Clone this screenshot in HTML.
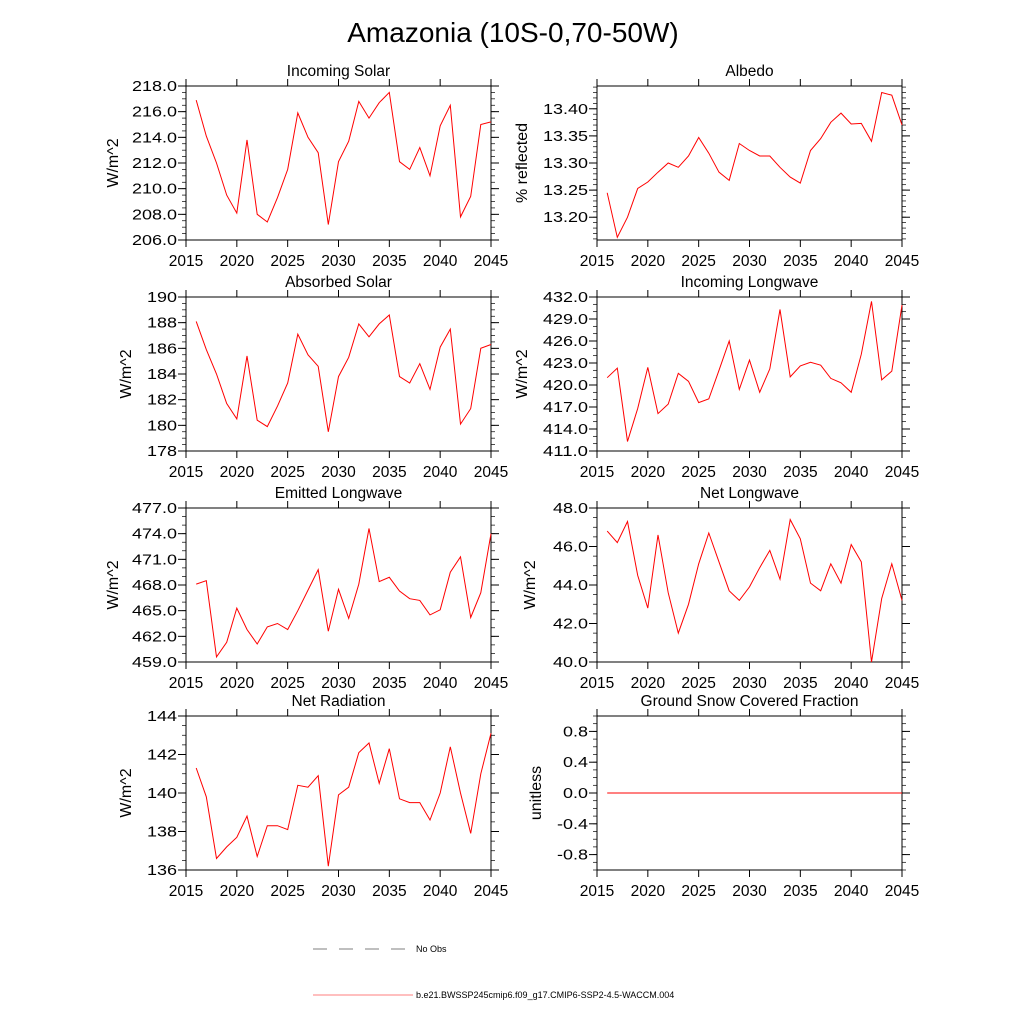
<!DOCTYPE html>
<html><head><meta charset="utf-8"><style>
body{margin:0;background:#fff;}
svg{display:block;font-family:"Liberation Sans",sans-serif;}
</style></head><body>
<svg id="c" width="1024" height="1024" viewBox="0 0 1024 1024">
<text x="513" y="42" text-anchor="middle" font-size="28">Amazonia (10S-0,70-50W)</text>
<g>
<line x1="313" y1="949" x2="413" y2="949" stroke="#000" stroke-width="0.6" stroke-dasharray="14,12"/>
<text x="416" y="952" font-size="9">No Obs</text>
<line x1="313" y1="995" x2="413" y2="995" stroke="#f00" stroke-width="0.6"/>
<text x="416" y="998" font-size="9">b.e21.BWSSP245cmip6.f09_g17.CMIP6-SSP2-4.5-WACCM.004</text>
</g>
</svg>
<script>
const years = [2016,2017,2018,2019,2020,2021,2022,2023,2024,2025,2026,2027,2028,2029,2030,2031,2032,2033,2034,2035,2036,2037,2038,2039,2040,2041,2042,2043,2044,2045];
const xTicks = [2015,2020,2025,2030,2035,2040,2045];
const incomingSolar = [216.9,214.1,212.0,209.5,208.1,213.8,208.0,207.4,209.3,211.5,215.9,214.0,212.8,207.2,212.1,213.7,216.8,215.5,216.7,217.5,212.1,211.5,213.2,211.0,214.9,216.5,207.8,209.4,215.0,215.2];
const albedo = [13.245,13.163,13.200,13.253,13.265,13.283,13.300,13.292,13.313,13.347,13.318,13.283,13.268,13.336,13.323,13.313,13.313,13.292,13.274,13.263,13.323,13.345,13.375,13.392,13.372,13.373,13.340,13.430,13.425,13.370];
const absorbedSolar = [188.1,185.9,184.0,181.7,180.5,185.4,180.4,179.9,181.5,183.3,187.1,185.5,184.6,179.5,183.8,185.3,187.9,186.9,187.9,188.6,183.8,183.3,184.8,182.8,186.1,187.5,180.1,181.3,186.0,186.3];
const incomingLW = [421.0,422.3,412.3,416.8,422.4,416.1,417.4,421.6,420.5,417.6,418.1,422.0,426.0,419.4,423.4,419.0,422.2,430.3,421.1,422.6,423.1,422.7,420.9,420.3,419.0,424.2,431.4,420.7,421.9,430.9];
const emittedLW = [468.1,468.5,459.6,461.3,465.3,462.8,461.1,463.1,463.5,462.8,465.0,467.4,469.8,462.6,467.5,464.1,468.1,474.6,468.4,468.9,467.3,466.4,466.2,464.5,465.1,469.5,471.3,464.2,467.1,474.0];
const netLW = [46.8,46.2,47.3,44.5,42.8,46.6,43.6,41.5,43.0,45.1,46.7,45.2,43.7,43.2,43.9,44.9,45.8,44.3,47.4,46.4,44.1,43.7,45.1,44.1,46.1,45.2,40.0,43.3,45.1,43.2];
const netRad = [141.3,139.8,136.6,137.2,137.7,138.8,136.7,138.3,138.3,138.1,140.4,140.3,140.9,136.2,139.9,140.3,142.1,142.6,140.5,142.3,139.7,139.5,139.5,138.6,140.0,142.4,140.0,137.9,141.0,143.1];
const snowFrac = [0,0,0,0,0,0,0,0,0,0,0,0,0,0,0,0,0,0,0,0,0,0,0,0,0,0,0,0,0,0];
const ticksSolar = [206,208,210,212,214,216,218];
const ticksAlbedo = [13.20,13.25,13.30,13.35,13.40];
const ticksAbs = [178,180,182,184,186,188,190];
const ticksILW = [411,414,417,420,423,426,429,432];
const ticksELW = [459,462,465,468,471,474,477];
const ticksNLW = [40,42,44,46,48];
const ticksNR = [136,138,140,142,144];
const ticksSnow = [-0.8,-0.4,0,0.4,0.8];

const NS='http://www.w3.org/2000/svg';
const svg=document.getElementById('c');
function mk(tag,attrs,parent){const e=document.createElementNS(NS,tag);for(const k in attrs)e.setAttribute(k,attrs[k]);parent.appendChild(e);return e;}
function tlen(s){let w=0;for(const ch of s){w+= (ch==='.')?5:(ch==='-')?6:10;}return w;}

const panels=[
 {id:'incoming-solar',title:'Incoming Solar',yl:'W/m^2',data:incomingSolar,ticks:ticksSolar,min:206,max:218,dec:1,minor:4,x:186,y:86,yt:118},
 {id:'albedo',title:'Albedo',yl:'% reflected',data:albedo,ticks:ticksAlbedo,min:13.158,max:13.442,dec:2,minor:5,x:597,y:86,yt:527},
 {id:'absorbed-solar',title:'Absorbed Solar',yl:'W/m^2',data:absorbedSolar,ticks:ticksAbs,min:178,max:190,dec:0,minor:4,x:186,y:297,yt:131},
 {id:'incoming-longwave',title:'Incoming Longwave',yl:'W/m^2',data:incomingLW,ticks:ticksILW,min:411,max:432,dec:1,minor:3,x:597,y:297,yt:527},
 {id:'emitted-longwave',title:'Emitted Longwave',yl:'W/m^2',data:emittedLW,ticks:ticksELW,min:459,max:477,dec:1,minor:3,x:186,y:508,yt:118},
 {id:'net-longwave',title:'Net Longwave',yl:'W/m^2',data:netLW,ticks:ticksNLW,min:40,max:48,dec:1,minor:4,x:597,y:508,yt:535},
 {id:'net-radiation',title:'Net Radiation',yl:'W/m^2',data:netRad,ticks:ticksNR,min:136,max:144,dec:0,minor:4,x:186,y:716,yt:131},
 {id:'snow-fraction',title:'Ground Snow Covered Fraction',yl:'unitless',data:snowFrac,ticks:ticksSnow,min:-1,max:1,dec:1,minor:4,x:597,y:716,yt:541}
];
const W=305,H=154;
panels.forEach(p=>{
 const g=mk('g',{},svg);
 
 
 const xs=v=>p.x+(v-2015)/30*W;
 const ys=v=>p.y+H-(v-p.min)/(p.max-p.min)*H;
 xTicks.forEach(t=>{
  const X=xs(t);
  mk('line',{x1:X,y1:p.y+H,x2:X,y2:p.y+H+7,stroke:'#000','stroke-width':1},g);
  mk('line',{x1:X,y1:p.y,x2:X,y2:p.y-7,stroke:'#000','stroke-width':1},g);
  const tl=mk('text',{x:X,y:p.y+H+26,'text-anchor':'middle','font-size':15.5},g);
  tl.textContent=t;
  
  
 });
 const step=p.ticks[1]-p.ticks[0];
 const ms=step/p.minor;
 for(let v=p.ticks[0]-step;v<=p.max+1e-9;v+=ms){
  if(v<p.min-1e-9)continue;
  const Y=ys(v);
  mk('line',{x1:p.x,y1:Y,x2:p.x-4,y2:Y,stroke:'#000','stroke-width':0.7},g);
  mk('line',{x1:p.x+W,y1:Y,x2:p.x+W+4,y2:Y,stroke:'#000','stroke-width':0.7},g);
 }
 p.ticks.forEach(t=>{
  const Y=ys(t);
  mk('line',{x1:p.x,y1:Y,x2:p.x-8,y2:Y,stroke:'#000','stroke-width':1},g);
  mk('line',{x1:p.x+W,y1:Y,x2:p.x+W+8,y2:Y,stroke:'#000','stroke-width':1},g);
  const s=t.toFixed(p.dec);
  const tl=mk('text',{x:p.x-9,y:Y+5,'text-anchor':'end','font-size':14.5,textLength:tlen(s),lengthAdjust:'spacingAndGlyphs'},g);
  tl.textContent=s;
  
  
 });
 mk('rect',{x:p.x,y:p.y,width:W,height:H,fill:'none',stroke:'#000','stroke-width':1},g);
 const tt=mk('text',{x:p.x+W/2,y:p.y-10,'text-anchor':'middle','font-size':15.5},g);
 tt.textContent=p.title;
 
 
 const yl=mk('text',{x:p.yt,y:p.y+H/2,'text-anchor':'middle','font-size':16,transform:`rotate(-90 ${p.yt} ${p.y+H/2})`},g);
 yl.textContent=p.yl;
 
 
 const pts=years.map((yr,i)=>xs(yr).toFixed(1)+','+ys(p.data[i]).toFixed(1)).join(' ');
 const ln=mk('polyline',{points:pts,fill:'none',stroke:'#f00','stroke-width':1},g);
 
 
});
</script>
</body></html>
